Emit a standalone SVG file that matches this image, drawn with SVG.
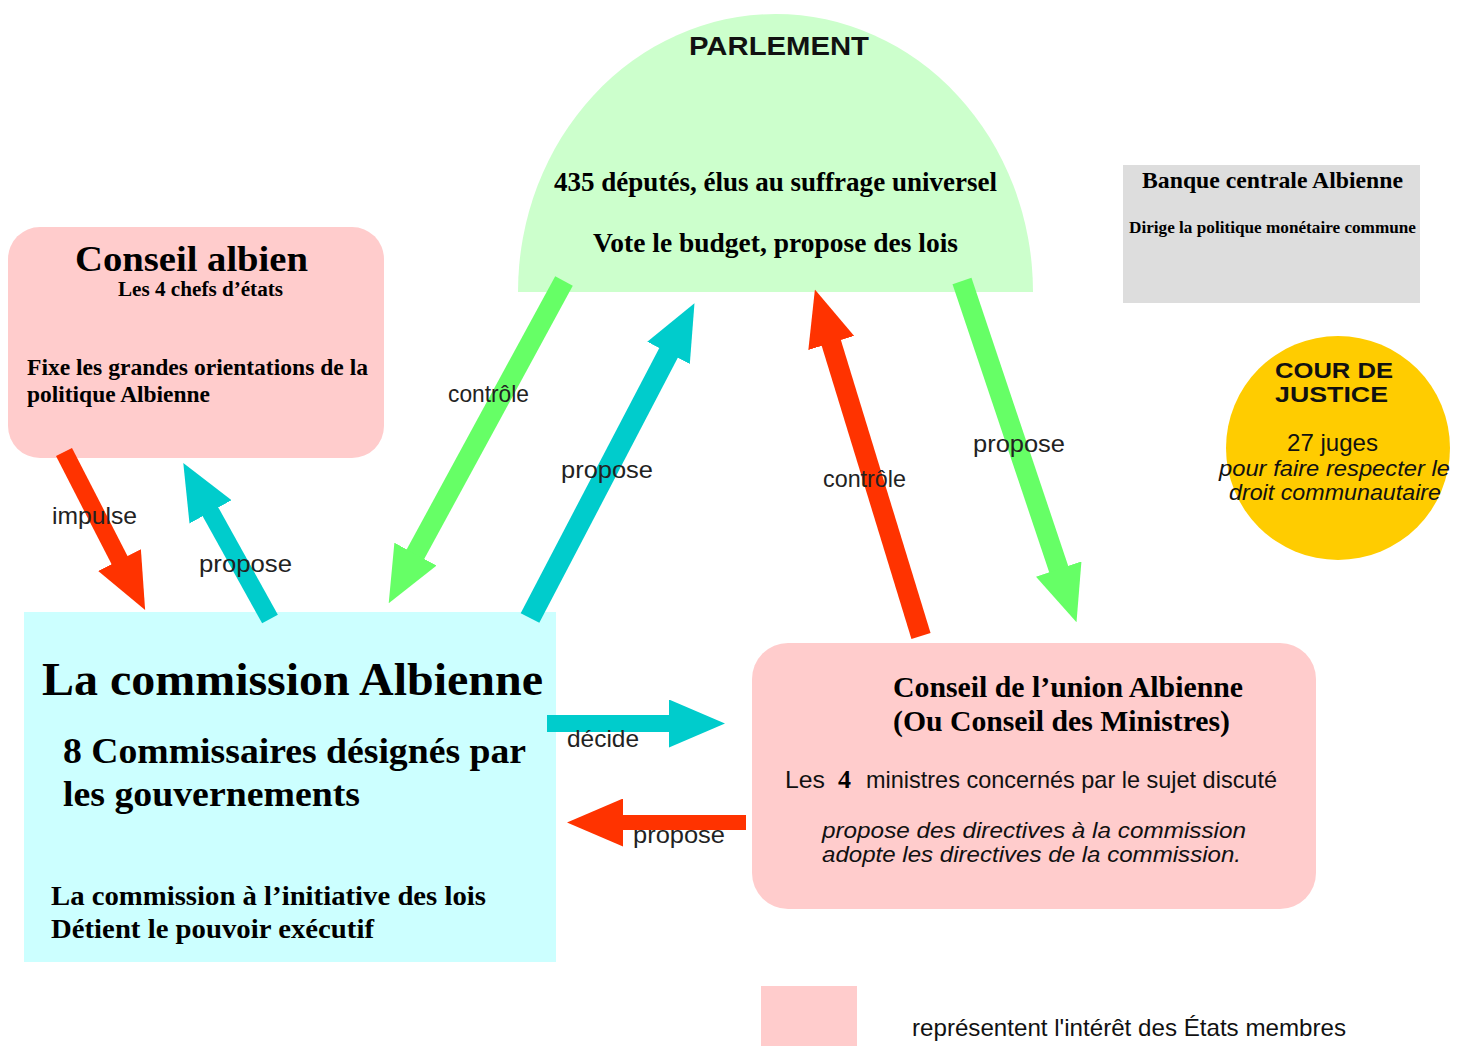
<svg xmlns="http://www.w3.org/2000/svg" width="1470" height="1058" viewBox="0 0 1470 1058">
<style>
.serif{font-family:"Liberation Serif","Times New Roman",serif;font-weight:bold;fill:#000}
.sans{font-family:"Liberation Sans",Arial,sans-serif;fill:#111}
.sansb{font-family:"Liberation Sans",Arial,sans-serif;font-weight:bold;fill:#111}
.it{font-style:italic}
.lbl{font-family:"Liberation Sans",Arial,sans-serif;font-size:24px;fill:#222}
.pink{fill:#ffcccc}
.red{stroke:#ff3300;fill:none}
.grn{stroke:#66ff66;fill:none}
.cyn{stroke:#00cccc;fill:none}
</style>
<defs>
<marker id="hr" viewBox="0 0 56 48" markerUnits="userSpaceOnUse" markerWidth="56" markerHeight="48" refX="1" refY="24" orient="auto"><path d="M0,0 L56,24 L0,48 Z" fill="#ff3300"/></marker>
<marker id="hg" viewBox="0 0 56 48" markerUnits="userSpaceOnUse" markerWidth="56" markerHeight="48" refX="1" refY="24" orient="auto"><path d="M0,0 L56,24 L0,48 Z" fill="#66ff66"/></marker>
<marker id="hc" viewBox="0 0 56 48" markerUnits="userSpaceOnUse" markerWidth="56" markerHeight="48" refX="1" refY="24" orient="auto"><path d="M0,0 L56,24 L0,48 Z" fill="#00cccc"/></marker>
</defs>
<rect width="1470" height="1058" fill="#fff"/>

<g id="parlement">
<path d="M518,292 A257.5,278 0 0 1 1033,292 Z" fill="#ccffcc"/>
<text class="sansb" x="689" y="55" font-size="25" textLength="180" lengthAdjust="spacingAndGlyphs">PARLEMENT</text>
<text class="serif" x="554" y="191" font-size="27" textLength="443" lengthAdjust="spacingAndGlyphs">435 députés, élus au suffrage universel</text>
<text class="serif" x="593" y="252" font-size="27" textLength="365" lengthAdjust="spacingAndGlyphs">Vote le budget, propose des lois</text>
</g>

<g id="banque">
<rect x="1123" y="165" width="297" height="138" fill="#dddddd"/>
<text class="serif" x="1142" y="188" font-size="23" textLength="261" lengthAdjust="spacingAndGlyphs">Banque centrale Albienne</text>
<text class="serif" x="1129" y="233" font-size="17" textLength="287" lengthAdjust="spacingAndGlyphs">Dirige la politique monétaire commune</text>
</g>

<g id="cour">
<circle cx="1338" cy="448" r="112" fill="#ffcc00"/>
<text class="sansb" x="1275" y="378" font-size="22" textLength="118" lengthAdjust="spacingAndGlyphs">COUR DE</text>
<text class="sansb" x="1275" y="402" font-size="22" textLength="113" lengthAdjust="spacingAndGlyphs">JUSTICE</text>
<text class="sans" x="1287" y="451" font-size="24" textLength="91" lengthAdjust="spacingAndGlyphs">27 juges</text>
<text class="sans it" x="1219" y="476" font-size="22" textLength="231" lengthAdjust="spacingAndGlyphs">pour faire respecter le</text>
<text class="sans it" x="1229" y="500" font-size="22" textLength="212" lengthAdjust="spacingAndGlyphs">droit communautaire</text>
</g>

<g id="conseil-albien">
<rect x="8" y="227" width="376" height="231" rx="32" class="pink"/>
<text class="serif" x="75" y="271" font-size="36" textLength="233" lengthAdjust="spacingAndGlyphs">Conseil albien</text>
<text class="serif" x="118" y="296" font-size="20" textLength="165" lengthAdjust="spacingAndGlyphs">Les 4 chefs d’états</text>
<text class="serif" x="27" y="375" font-size="23" textLength="341" lengthAdjust="spacingAndGlyphs">Fixe les grandes orientations de la</text>
<text class="serif" x="27" y="402" font-size="23" textLength="183" lengthAdjust="spacingAndGlyphs">politique Albienne</text>
</g>

<g id="commission">
<rect x="24" y="612" width="532" height="350" fill="#ccffff"/>
<text class="serif" x="42" y="695" font-size="46" textLength="501" lengthAdjust="spacingAndGlyphs">La commission Albienne</text>
<text class="serif" x="63" y="763" font-size="36" textLength="463" lengthAdjust="spacingAndGlyphs">8 Commissaires désignés par</text>
<text class="serif" x="63" y="806" font-size="36" textLength="297" lengthAdjust="spacingAndGlyphs">les gouvernements</text>
<text class="serif" x="51" y="905" font-size="28" textLength="435" lengthAdjust="spacingAndGlyphs">La commission à l’initiative des lois</text>
<text class="serif" x="51" y="938" font-size="28" textLength="323" lengthAdjust="spacingAndGlyphs">Détient le pouvoir exécutif</text>
</g>

<g id="conseil-union">
<rect x="752" y="643" width="564" height="266" rx="36" class="pink"/>
<text class="serif" x="893" y="697" font-size="29" textLength="350" lengthAdjust="spacingAndGlyphs">Conseil de l’union Albienne</text>
<text class="serif" x="893" y="731" font-size="29" textLength="337" lengthAdjust="spacingAndGlyphs">(Ou Conseil des Ministres)</text>
<text class="sans" x="785" y="788" font-size="24" textLength="40" lengthAdjust="spacingAndGlyphs">Les</text>
<text class="serif" x="838" y="788" font-size="26">4</text>
<text class="sans" x="866" y="788" font-size="24" textLength="411" lengthAdjust="spacingAndGlyphs">ministres concernés par le sujet discuté</text>
<text class="sans it" x="822" y="838" font-size="22" textLength="424" lengthAdjust="spacingAndGlyphs">propose des directives à la commission</text>
<text class="sans it" x="822" y="862" font-size="22" textLength="419" lengthAdjust="spacingAndGlyphs">adopte les directives de la commission.</text>
</g>

<g id="legende">
<rect x="761" y="986" width="96" height="60" class="pink"/>
<text class="sans" x="912" y="1036" font-size="24" textLength="434" lengthAdjust="spacingAndGlyphs">représentent l'intérêt des États membres</text>
</g>

<g id="connectors">
<line class="red" x1="64" y1="452" x2="120" y2="561" stroke-width="18" marker-end="url(#hr)"/>
<line class="cyn" x1="270" y1="619" x2="210" y2="511" stroke-width="18" marker-end="url(#hc)"/>
<line class="grn" x1="564" y1="281" x2="415" y2="555" stroke-width="20" marker-end="url(#hg)"/>
<line class="cyn" x1="530" y1="618" x2="669" y2="352" stroke-width="21" marker-end="url(#hc)"/>
<line class="red" x1="921" y1="636" x2="831" y2="342" stroke-width="20" marker-end="url(#hr)"/>
<line class="grn" x1="962" y1="281" x2="1059" y2="570" stroke-width="20" marker-end="url(#hg)"/>
<line class="cyn" x1="547" y1="723.5" x2="670" y2="723.5" stroke-width="17" marker-end="url(#hc)"/>
<line class="red" x1="746" y1="822.5" x2="622" y2="822.5" stroke-width="15" marker-end="url(#hr)"/>
<text class="lbl" x="52" y="524" textLength="85" lengthAdjust="spacingAndGlyphs">impulse</text>
<text class="lbl" x="199" y="572" textLength="93" lengthAdjust="spacingAndGlyphs">propose</text>
<text class="lbl" x="448" y="402" textLength="81" lengthAdjust="spacingAndGlyphs">contrôle</text>
<text class="lbl" x="561" y="478" textLength="92" lengthAdjust="spacingAndGlyphs">propose</text>
<text class="lbl" x="823" y="487" textLength="83" lengthAdjust="spacingAndGlyphs">contrôle</text>
<text class="lbl" x="973" y="452" textLength="92" lengthAdjust="spacingAndGlyphs">propose</text>
<text class="lbl" x="567" y="747" textLength="72" lengthAdjust="spacingAndGlyphs">décide</text>
<text class="lbl" x="633" y="843" textLength="92" lengthAdjust="spacingAndGlyphs">propose</text>
</g>
</svg>
